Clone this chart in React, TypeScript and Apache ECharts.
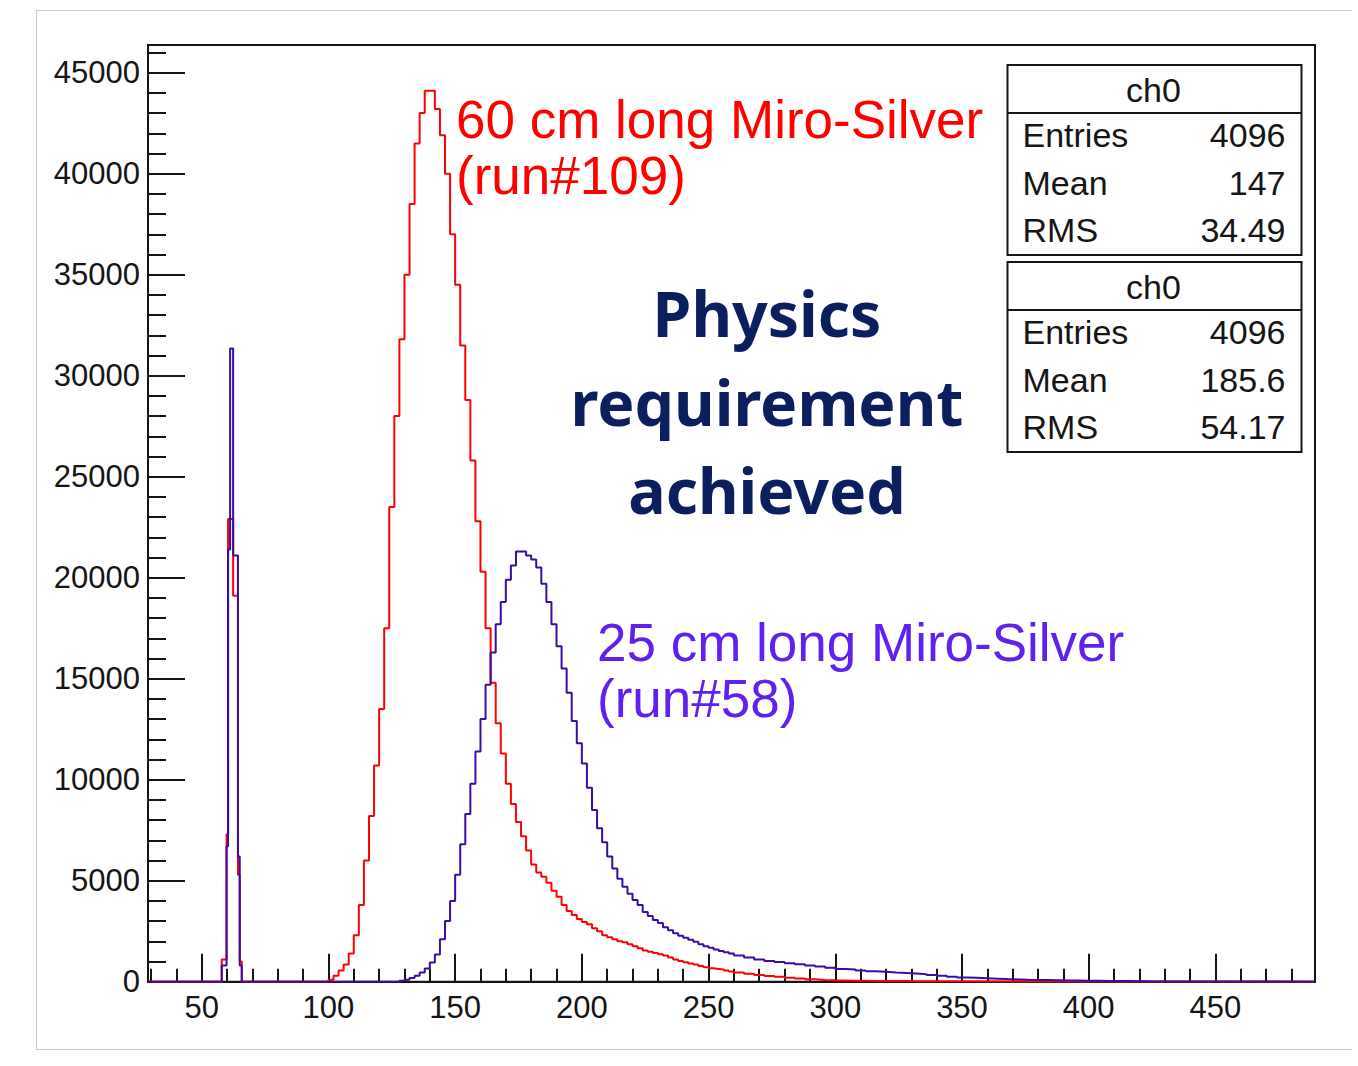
import React, { useEffect, useRef } from "react";
import * as echarts from "echarts";

// ---- axis ranges and ticks ----
const X_MIN = 28.8;
const X_MAX = 489.3;
const Y_MAX = 46370;
const xMajorTicks = [50, 100, 150, 200, 250, 300, 350, 400, 450];
const xMinorTicks = [30, 40, 60, 70, 80, 90, 110, 120, 130, 140, 160, 170, 180, 190, 210, 220, 230, 240, 260, 270, 280, 290, 310, 320, 330, 340, 360, 370, 380, 390, 410, 420, 430, 440, 460, 470, 480];
const yMajorTicks = [0, 5000, 10000, 15000, 20000, 25000, 30000, 35000, 40000, 45000];
const yMinorTicks = [1000, 2000, 3000, 4000, 6000, 7000, 8000, 9000, 11000, 12000, 13000, 14000, 16000, 17000, 18000, 19000, 21000, 22000, 23000, 24000, 26000, 27000, 28000, 29000, 31000, 32000, 33000, 34000, 36000, 37000, 38000, 39000, 41000, 42000, 43000, 44000, 46000];

// ---- red histogram: 60 cm long Miro-Silver (run#109) ----
const redEdges = [
  57.9, 59.8, 60.4, 61.2, 62.4, 64.3, 65.0, 65.8,
  100, 102, 104, 106, 108, 110, 112, 114, 116, 118, 120, 122, 124, 126, 128, 130, 132, 134, 136, 138,
  140, 142, 144, 146, 148, 150, 152, 154, 156, 158, 160, 162, 164, 166, 168, 170, 172, 174, 176, 178,
  180, 182, 184, 186, 188, 190, 192, 194, 196, 198, 200, 202, 204, 206, 208, 210, 212, 214, 216, 218,
  220, 222, 224, 226, 228, 230, 232, 234, 236, 238, 240, 242, 244, 246, 248, 250, 252, 254, 256, 258,
  260, 264, 268, 272, 276, 280, 284, 288, 292, 296, 300, 304, 308, 312, 316, 320, 324, 328, 332,
];
const redCounts = [
  1100, 7300, 22900, 22900, 19100, 5300, 1000, 0,
  100, 300, 550, 850, 1400, 2300, 3800, 6000, 8200, 10700, 13500, 17500, 23500, 28000, 31800, 35000, 38500, 41500, 43000, 44100,
  44100, 43200, 41900, 40000, 37000, 34500, 31500, 28800, 25800, 22800, 20300, 17500, 14800, 12800, 11300, 9800, 8800, 7900, 7200, 6500,
  5800, 5400, 5200, 4900, 4500, 4200, 3800, 3500, 3300, 3100, 2950, 2850, 2650, 2500, 2300, 2200, 2100, 2000, 1950, 1850,
  1750, 1650, 1550, 1480, 1420, 1360, 1300, 1200, 1100, 1030, 960, 900, 850, 780, 720, 660, 630, 600, 560, 510,
  460, 390, 330, 280, 240, 200, 160, 120, 90, 70, 60, 50, 45, 40, 35, 30, 30, 20, 20,
];
const redEnd = 336;

// ---- blue histogram: 25 cm long Miro-Silver (run#58) ----
const blueEdges = [
  57.9, 59.8, 60.4, 61.2, 62.4, 64.3, 65.0, 65.8,
  128, 130, 132, 134, 136, 138, 140, 142, 144, 146, 148, 150, 152, 154, 156, 158, 160, 162, 164, 166,
  168, 170, 172, 174, 176, 178, 180, 182, 184, 186, 188, 190, 192, 194, 196, 198, 200, 202, 204, 206,
  208, 210, 212, 214, 216, 218, 220, 222, 224, 226, 228, 230, 232, 234, 236, 238, 240, 242, 244, 246,
  248, 250, 252, 254, 256, 258,
  260, 264, 268, 272, 276, 280, 284, 288, 292, 296, 300, 304, 308, 312, 316, 320, 324, 328, 332, 336,
  340, 344, 348, 352, 356, 360, 364, 368, 372, 376, 380, 384, 388, 392, 396, 400, 404, 408, 412, 416, 420,
];
const blueCounts = [
  800, 6700, 21400, 31350, 21100, 6200, 800, 0,
  50, 100, 180, 300, 450, 650, 950, 1350, 2100, 3000, 4000, 5300, 6800, 8300, 9800, 11400, 13000, 14700, 16300, 17700,
  18800, 19900, 20600, 21300, 21300, 21100, 20900, 20500, 19700, 18800, 17700, 16600, 15500, 14300, 12900, 11800, 10800, 9600, 8500, 7600,
  6900, 6200, 5600, 5100, 4700, 4350, 4050, 3800, 3450, 3250, 3050, 2900, 2700, 2550, 2400, 2270, 2180, 2080, 1980, 1850,
  1760, 1680, 1600, 1520, 1460, 1400,
  1300, 1200, 1100, 1030, 970, 910, 860, 800, 750, 690, 630, 600, 560, 520, 495, 460, 430, 400, 370, 330,
  290, 250, 210, 190, 170, 150, 130, 115, 100, 90, 80, 70, 60, 55, 50, 45, 40, 35, 30, 25, 20,
];
const blueEnd = 424;

// ---- statistics boxes ----
const statTitle = "ch0";
const statNames = ["Entries", "Mean", "RMS"];
const stats1 = ["4096", "147", "34.49"];
const stats2 = ["4096", "185.6", "54.17"];

const redLabel = ["60 cm long Miro-Silver", "(run#109)"];
const blueLabel = ["25 cm long Miro-Silver", "(run#58)"];
const noteLines = ["Physics", "requirement", "achieved"];

const RED = "#ff0000";
const BLUE_LINE = "#3a0ca3";
const BLUE_TEXT = "#6020f0";
const NAVY = "#0b1f5f";
const INK = "#151515";
const FONT = "'Liberation Sans', Arial, Helvetica, sans-serif";
const NOTE_FONT = "'Noto Sans', 'Open Sans', sans-serif";

function histData(edges: number[], counts: number[], end: number) {
  const d: number[][] = [[X_MIN, 0]];
  edges.forEach((x, i) => d.push([x, counts[i]]));
  d.push([end, 0]);
  d.push([X_MAX, 0]);
  return d;
}

function txt(text: string, x: number, y: number, size: number, fill: string, align = "left", weight = "normal", family = FONT) {
  return {
    type: "text",
    x,
    y,
    z: 100,
    style: {
      text,
      fill,
      fontSize: size,
      fontFamily: family,
      fontWeight: weight,
      align,
      textAlign: align,
      verticalAlign: "middle",
      textVerticalAlign: "middle",
    },
  };
}

function statBox(top: number, values: string[]) {
  const left = 1007.5;
  const width = 294;
  const height = 190;
  const els: any[] = [
    { type: "rect", z: 90, shape: { x: left, y: top, width, height }, style: { fill: "#fff", stroke: INK, lineWidth: 2 } },
    { type: "line", z: 91, shape: { x1: left, y1: top + 48, x2: left + width, y2: top + 48 }, style: { stroke: INK, lineWidth: 2 } },
    txt(statTitle, left + 146, top + 25, 34, INK, "center"),
  ];
  statNames.forEach((n, i) => {
    const cy = top + 70 + i * 47.5;
    els.push(txt(n, left + 15, cy, 34, INK, "left"));
    els.push(txt(values[i], left + 278, cy, 34, INK, "right"));
  });
  return els;
}

export default function App() {
  const ref = useRef<HTMLDivElement>(null);
  useEffect(() => {
    document.body.style.margin = "0";
    if (!ref.current) return;
    const chart = echarts.init(ref.current, undefined, { renderer: "svg" });
    const axisCommon = {
      type: "value",
      min: X_MIN,
      max: X_MAX,
      splitLine: { show: false },
    };
    const option: any = {
      animation: false,
      backgroundColor: "#ffffff",
      grid: {
        left: 148,
        top: 45,
        right: 43,
        bottom: 84.3,
        show: true,
        borderColor: INK,
        borderWidth: 2,
        backgroundColor: "transparent",
      },
      xAxis: [
        {
          ...axisCommon,
          position: "bottom",
          axisLine: { show: true, lineStyle: { color: INK, width: 2 } },
          axisTick: { show: true, inside: true, length: 28, customValues: xMajorTicks, lineStyle: { color: INK, width: 2 } },
          axisLabel: { show: true, customValues: xMajorTicks, margin: 10, fontSize: 31, fontFamily: FONT, color: INK, formatter: (v: number) => String(v) },
        },
        {
          ...axisCommon,
          position: "bottom",
          axisLine: { show: false },
          axisTick: { show: true, inside: true, length: 13, customValues: xMinorTicks, lineStyle: { color: INK, width: 2 } },
          axisLabel: { show: false },
        },
      ],
      yAxis: [
        {
          type: "value",
          min: 0,
          max: Y_MAX,
          position: "left",
          splitLine: { show: false },
          axisLine: { show: true, lineStyle: { color: INK, width: 2 } },
          axisTick: { show: true, inside: true, length: 37, customValues: yMajorTicks, lineStyle: { color: INK, width: 2 } },
          axisLabel: { show: true, customValues: yMajorTicks, margin: 8, fontSize: 31, fontFamily: FONT, color: INK, formatter: (v: number) => String(v) },
        },
        {
          type: "value",
          min: 0,
          max: Y_MAX,
          position: "left",
          splitLine: { show: false },
          axisLine: { show: false },
          axisTick: { show: true, inside: true, length: 18, customValues: yMinorTicks, lineStyle: { color: INK, width: 2 } },
          axisLabel: { show: false },
        },
      ],
      series: [
        {
          name: "60 cm long Miro-Silver (run#109)",
          type: "line",
          step: "end",
          xAxisIndex: 0,
          yAxisIndex: 0,
          showSymbol: false,
          symbol: "none",
          clip: true,
          data: histData(redEdges, redCounts, redEnd),
          lineStyle: { color: RED, width: 2 },
          z: 3,
        },
        {
          name: "25 cm long Miro-Silver (run#58)",
          type: "line",
          step: "end",
          xAxisIndex: 0,
          yAxisIndex: 0,
          showSymbol: false,
          symbol: "none",
          clip: true,
          data: histData(blueEdges, blueCounts, blueEnd),
          lineStyle: { color: BLUE_LINE, width: 2 },
          z: 4,
        },
      ],
      graphic: [
        { type: "line", z: 1, shape: { x1: 36, y1: 10.5, x2: 1352, y2: 10.5 }, style: { stroke: "#c8c8c8", lineWidth: 1 } },
        { type: "line", z: 1, shape: { x1: 36.5, y1: 10, x2: 36.5, y2: 1050 }, style: { stroke: "#c8c8c8", lineWidth: 1 } },
        { type: "line", z: 1, shape: { x1: 36, y1: 1049.5, x2: 1352, y2: 1049.5 }, style: { stroke: "#c8c8c8", lineWidth: 1 } },
        ...statBox(65, stats1),
        ...statBox(262, stats2),
        txt(redLabel[0], 456, 119, 53, RED, "left"),
        txt(redLabel[1], 456, 175, 53, RED, "left"),
        txt(blueLabel[0], 597, 642, 53, BLUE_TEXT, "left"),
        txt(blueLabel[1], 597, 698, 53, BLUE_TEXT, "left"),
        txt(noteLines[0], 767, 312, 62.5, NAVY, "center", "bold", NOTE_FONT),
        txt(noteLines[1], 767, 401, 62.5, NAVY, "center", "bold", NOTE_FONT),
        txt(noteLines[2], 767, 489, 62.5, NAVY, "center", "bold", NOTE_FONT),
      ],
    };
    chart.setOption(option);
    return () => chart.dispose();
  }, []);
  return <div ref={ref} style={{ width: 1358, height: 1066 }} />;
}
